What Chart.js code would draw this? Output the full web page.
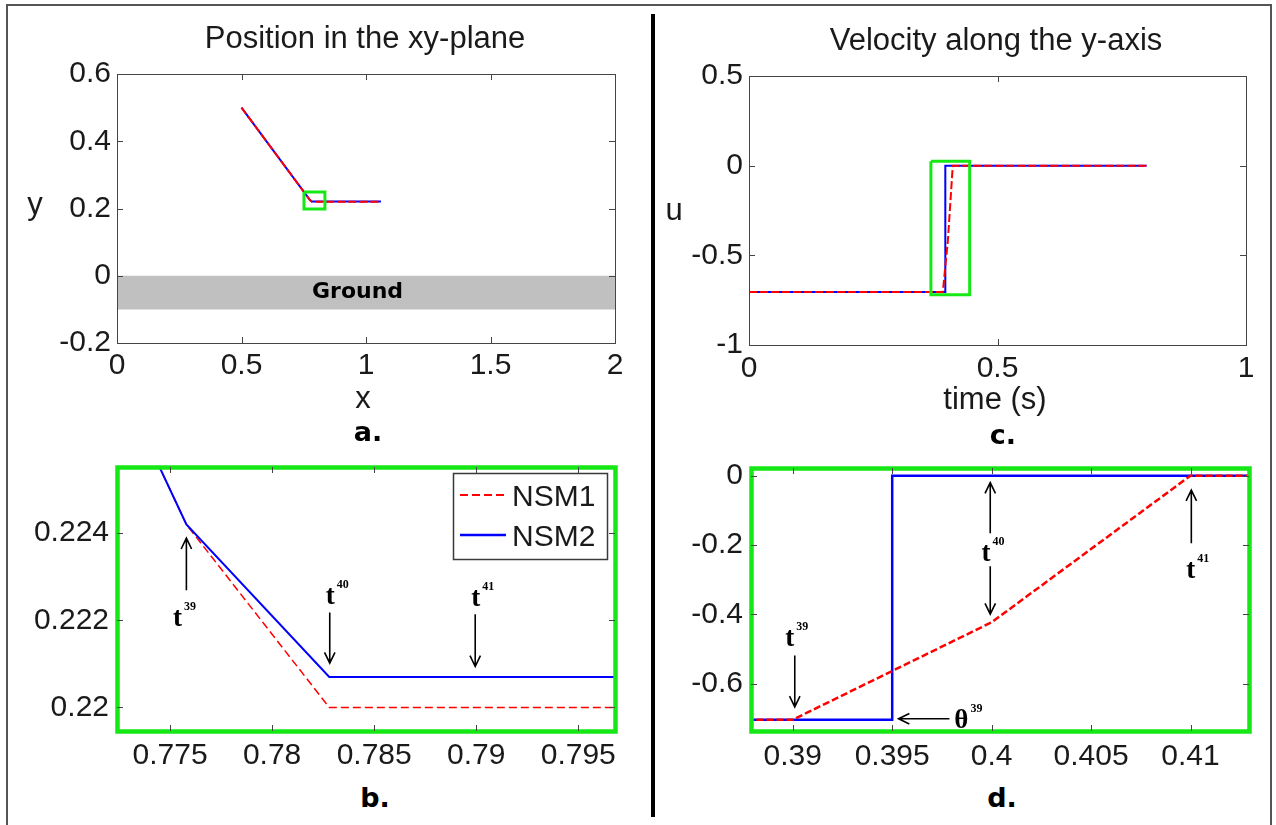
<!DOCTYPE html>
<html>
<head>
<meta charset="utf-8">
<script src="https://cdn.jsdelivr.net/npm/chart.js@4.4.1/dist/chart.umd.min.js"></script>
<style>
  body { margin: 0; background: #fff; }
  #fig { position: relative; width: 1276px; height: 825px; overflow: hidden; background: #fff;
         font-family: "Liberation Sans", Arial, Helvetica, sans-serif; color: #1a1a1a; }
  #fig canvas { position: absolute; }
  .txt { position: absolute; white-space: nowrap; line-height: 1; font-size: 31px; transform: translateX(-50%); }
  .tag { position: absolute; white-space: nowrap; line-height: 1; font-size: 27px; transform: translateX(-50%);
         font-family: "DejaVu Sans", Verdana, sans-serif; font-weight: bold; color: #000; }
  #border { position: absolute; left: 6px; top: 4px; width: 1266px; height: 830px; border: 2px solid #555; box-sizing: border-box; }
  #divider { position: absolute; left: 651px; top: 14px; width: 4px; height: 803px; background: #000; }
</style>
</head>
<body>
<div id="fig">
  <div id="border"></div>
  <div id="divider"></div>
  <canvas id="pa"></canvas>
  <canvas id="pb"></canvas>
  <canvas id="pc"></canvas>
  <canvas id="pd"></canvas>

  <div class="txt" style="left:365px; top:22px;">Position in the xy-plane</div>
  <div class="txt" style="left:996px; top:24px;">Velocity along the y-axis</div>
  <div class="txt" style="left:35px; top:188px;">y</div>
  <div class="txt" style="left:363px; top:382px;">x</div>
  <div class="txt" style="left:674px; top:194px;">u</div>
  <div class="txt" style="left:995px; top:383px;">time (s)</div>
  <div class="tag" style="left:368px; top:418px;">a.</div>
  <div class="tag" style="left:1003px; top:421px;">c.</div>
  <div class="tag" style="left:375px; top:784px;">b.</div>
  <div class="tag" style="left:1002px; top:784px;">d.</div>
</div>

<script>
// ---- data ----

// position in the xy-plane (panels a and b)
const posX  = [0.5, 0.7758, 0.7828, 1.06];
const posY1 = [0.5, 0.2242, 0.2200, 0.2200];   // NSM1
const posY2 = [0.5, 0.2242, 0.2207, 0.2207];   // NSM2

// velocity along y (panels c and d)
const time1 = [0, 0.39, 0.40, 0.41, 0.8];
const vel1  = [-0.704, -0.704, -0.423, 0, 0];  // NSM1
const time2 = [0, 0.395, 0.395, 0.8];
const vel2  = [-0.704, -0.704, 0, 0];          // NSM2

// ground strip in panel a
const groundX = [0, 2];
const groundY = [0, 0];
const groundBottom = -0.1;

// green zoom boxes drawn in a and c
const boxAx = [0.751, 0.835, 0.835, 0.751, 0.751];
const boxAy = [0.249, 0.249, 0.1985, 0.1985, 0.249];
const boxCx = [0.366, 0.444, 0.444, 0.366, 0.366];
const boxCy = [0.024, 0.024, -0.72, -0.72, 0.024];

// ticks
const ticksAx = [0, 0.5, 1, 1.5, 2];
const labelsAx = ['0', '0.5', '1', '1.5', '2'];
const ticksAy = [-0.2, 0, 0.2, 0.4, 0.6];
const labelsAy = ['-0.2', '0', '0.2', '0.4', '0.6'];
const ticksBx = [0.775, 0.78, 0.785, 0.79, 0.795];
const labelsBx = ['0.775', '0.78', '0.785', '0.79', '0.795'];
const ticksBy = [0.22, 0.222, 0.224];
const labelsBy = ['0.22', '0.222', '0.224'];
const ticksCx = [0, 0.5, 1];
const labelsCx = ['0', '0.5', '1'];
const ticksCy = [-1, -0.5, 0, 0.5];
const labelsCy = ['-1', '-0.5', '0', '0.5'];
const ticksDx = [0.39, 0.395, 0.4, 0.405, 0.41];
const labelsDx = ['0.39', '0.395', '0.4', '0.405', '0.41'];
const ticksDy = [-0.6, -0.4, -0.2, 0];
const labelsDy = ['-0.6', '-0.4', '-0.2', '0'];

// annotation arrows [x0, y0, x1, y1] (head at x1,y1) and labels, in data units
const arrowsB = [[0.77580, 0.222688, 0.77580, 0.223886],
                 [0.782824, 0.222178, 0.782824, 0.221016],
                 [0.789951, 0.222141, 0.789951, 0.220941]];
const marksB = [{ s: 't', sup: '39', x: 0.775368, y: 0.221875 },
                { s: 't', sup: '40', x: 0.782843, y: 0.222369 },
                { s: 't', sup: '41', x: 0.789980, y: 0.222330 }];
const arrowsD = [[0.390101, -0.519, 0.390101, -0.667],
                 [0.399929, -0.166, 0.399929, -0.020],
                 [0.399929, -0.2614, 0.399929, -0.3996],
                 [0.410040, -0.1947, 0.410040, -0.0418],
                 [0.397878, -0.7014, 0.395319, -0.7014]];
const marksD = [{ s: 't', sup: '39', x: 0.389844, y: -0.4904 },
                { s: 't', sup: '40', x: 0.399718, y: -0.2470 },
                { s: 't', sup: '41', x: 0.410010, y: -0.2949 },
                { s: 'θ', sup: '39', x: 0.398477, y: -0.7288 }];

// ---- styling ----
const FONT = '"Liberation Sans", Arial, Helvetica, sans-serif';
const SERIF = '"Liberation Serif", "Times New Roman", serif';
const RED = '#ff0000', BLUE = '#0000ff', GREEN = '#16e816', AXIS = '#454545';
const Y_W = 90, X_H = 45, PAD_T = 24, PAD_R = 30;

function pts(xs, ys) {
  return xs.map((x, i) => ({ x: x, y: ys[i] }));
}

function axis(kind, min, max, vals, labels, pad) {
  return {
    type: 'linear', min: min, max: max,
    grid: { display: false, drawTicks: false },
    border: { display: false },
    ticks: {
      autoSkip: false, maxRotation: 0, minRotation: 0,
      padding: pad, color: '#1a1a1a',
      font: { family: FONT, size: 30 },
      callback: (v, i) => labels[i]
    },
    afterBuildTicks: s => { s.ticks = vals.map(v => ({ value: v })); },
    afterFit: s => { if (kind === 'x') s.height = X_H; else s.width = Y_W; }
  };
}

function arrow(ctx, x0, y0, x1, y1) {
  const ang = Math.atan2(y1 - y0, x1 - x0), L = 12, h = 0.45;
  ctx.beginPath();
  ctx.moveTo(x0, y0); ctx.lineTo(x1, y1);
  ctx.moveTo(x1 - L * Math.cos(ang - h), y1 - L * Math.sin(ang - h));
  ctx.lineTo(x1, y1);
  ctx.lineTo(x1 - L * Math.cos(ang + h), y1 - L * Math.sin(ang + h));
  ctx.stroke();
}

// box, inward ticks, green frame, arrows, labels, legend
function decor(opt) {
  return {
    id: 'decor',
    afterDatasetsDraw(chart) {
      const ctx = chart.ctx, a = chart.chartArea, sx = chart.scales.x, sy = chart.scales.y;
      const px = v => sx.getPixelForValue(v), py = v => sy.getPixelForValue(v);
      ctx.save();
      ctx.strokeStyle = AXIS; ctx.lineWidth = 1;
      ctx.strokeRect(a.left + 0.5, a.top + 0.5, a.right - a.left, a.bottom - a.top);
      if (opt.frame) {
        ctx.strokeStyle = GREEN; ctx.lineWidth = 4.5;
        ctx.strokeRect(a.left + 0.5, a.top + 0.5, a.right - a.left, a.bottom - a.top);
      }
      ctx.strokeStyle = AXIS; ctx.lineWidth = 1;
      ctx.beginPath();
      sx.ticks.forEach(t => {
        const x = Math.round(px(t.value)) + 0.5;
        ctx.moveTo(x, a.bottom); ctx.lineTo(x, a.bottom - 6);
        ctx.moveTo(x, a.top); ctx.lineTo(x, a.top + 6);
      });
      sy.ticks.forEach(t => {
        const y = Math.round(py(t.value)) + 0.5;
        ctx.moveTo(a.left, y); ctx.lineTo(a.left + 6, y);
        ctx.moveTo(a.right, y); ctx.lineTo(a.right - 6, y);
      });
      ctx.stroke();

      if (opt.ground) {
        ctx.fillStyle = '#000';
        ctx.font = 'bold 22px "DejaVu Sans", Verdana, sans-serif';
        ctx.textAlign = 'center'; ctx.textBaseline = 'middle';
        ctx.fillText(opt.ground.text, px(opt.ground.x), py(opt.ground.y));
      }

      ctx.strokeStyle = '#000'; ctx.lineWidth = 1.6;
      (opt.arrows || []).forEach(r => arrow(ctx, px(r[0]), py(r[1]), px(r[2]), py(r[3])));
      ctx.fillStyle = '#000';
      (opt.marks || []).forEach(m => {
        const x = px(m.x), y = py(m.y);
        ctx.font = 'bold 27px ' + SERIF;
        ctx.textAlign = 'center'; ctx.textBaseline = 'alphabetic';
        ctx.fillText(m.s, x, y);
        const w = ctx.measureText(m.s).width;
        ctx.font = 'bold 12px ' + SERIF;
        ctx.textAlign = 'left';
        ctx.fillText(m.sup, x + w / 2 + 2, y - 16);
      });

      if (opt.legend) {
        const lw = 154, lh = 86;
        const lx = a.right - 8 - lw, ly = a.top + 6;
        ctx.fillStyle = '#fff'; ctx.fillRect(lx, ly, lw, lh);
        ctx.strokeStyle = '#3a3a3a'; ctx.lineWidth = 1.5;
        ctx.strokeRect(lx + 0.5, ly + 0.5, lw, lh);
        opt.legend.forEach((e, i) => {
          const yy = ly + 22 + i * 40;
          ctx.strokeStyle = e.color; ctx.lineWidth = e.width;
          ctx.setLineDash(e.dash || []);
          ctx.beginPath(); ctx.moveTo(lx + 7, yy); ctx.lineTo(lx + 53, yy); ctx.stroke();
          ctx.setLineDash([]);
          ctx.fillStyle = '#1a1a1a';
          ctx.font = '30px ' + FONT;
          ctx.textAlign = 'left'; ctx.textBaseline = 'alphabetic';
          ctx.fillText(e.label, lx + 59, yy + 11);
        });
      }
      ctx.restore();
    }
  };
}

function makePanel(id, area, sx, sy, datasets, opt) {
  const cv = document.getElementById(id);
  const w = area.r - area.l + Y_W + PAD_R;
  const h = area.b - area.t + PAD_T + X_H;
  cv.width = w; cv.height = h;
  cv.style.left = (area.l - Y_W) + 'px';
  cv.style.top = (area.t - PAD_T) + 'px';
  cv.style.width = w + 'px'; cv.style.height = h + 'px';
  return new Chart(cv, {
    type: 'line',
    data: { datasets: datasets },
    options: {
      responsive: false, animation: false, devicePixelRatio: 1,
      layout: { padding: { top: PAD_T, right: PAD_R, left: 0, bottom: 0 } },
      plugins: { legend: { display: false }, tooltip: { enabled: false } },
      elements: { point: { radius: 0 }, line: { tension: 0 } },
      scales: { x: sx, y: sy }
    },
    plugins: [decor(opt)]
  });
}

function series(data, color, width, dash, order) {
  return { data: data, borderColor: color, borderWidth: width, borderDash: dash || [],
           fill: false, pointRadius: 0, order: order };
}

// a. position in the xy-plane
makePanel('pa', { l: 117, t: 74, r: 615, b: 343 },
  axis('x', 0, 2, ticksAx, labelsAx, 5),
  axis('y', -0.2, 0.6, ticksAy, labelsAy, 6),
  [
    series(pts(boxAx, boxAy), GREEN, 3, null, 0),
    series(pts(posX, posY1), RED, 2, [8, 3], 1),
    series(pts(posX, posY2), BLUE, 2, null, 2),
    { data: pts(groundX, groundY), borderWidth: 0, borderColor: 'rgba(0,0,0,0)',
      backgroundColor: '#c0c0c0', fill: { value: groundBottom }, pointRadius: 0, order: 3 }
  ],
  { ground: { text: 'Ground', x: 0.966, y: -0.05 } });

// b. zoom of a
makePanel('pb', { l: 117, t: 465, r: 615, b: 731 },
  axis('x', 0.7724, 0.7968, ticksBx, labelsBx, 7),
  axis('y', 0.21946, 0.22552, ticksBy, labelsBy, 8),
  [
    series(pts(posX, posY1), RED, 1.5, [8, 4], 2),
    series(pts(posX, posY2), BLUE, 2, null, 1)
  ],
  { frame: true, arrows: arrowsB, marks: marksB,
    legend: [{ label: 'NSM1', color: RED, width: 2, dash: [8, 4] },
             { label: 'NSM2', color: BLUE, width: 2.5 }] });

// c. velocity along the y-axis
makePanel('pc', { l: 749, t: 76, r: 1246, b: 345 },
  axis('x', 0, 1, ticksCx, labelsCx, 6),
  axis('y', -1, 0.5, ticksCy, labelsCy, 6),
  [
    series(pts(boxCx, boxCy), GREEN, 3, null, 0),
    series(pts(time1, vel1), RED, 2, [8, 3], 1),
    series(pts(time2, vel2), BLUE, 2, null, 2)
  ],
  {});

// d. zoom of c
makePanel('pd', { l: 751, t: 466, r: 1249, b: 731 },
  axis('x', 0.3879, 0.41294, ticksDx, labelsDx, 8),
  axis('y', -0.7366, 0.022, ticksDy, labelsDy, 8),
  [
    series(pts(time1, vel1), RED, 2.5, [7, 3], 1),
    series(pts(time2, vel2), BLUE, 2.5, null, 2)
  ],
  { frame: true, arrows: arrowsD, marks: marksD });
</script>
</body>
</html>
